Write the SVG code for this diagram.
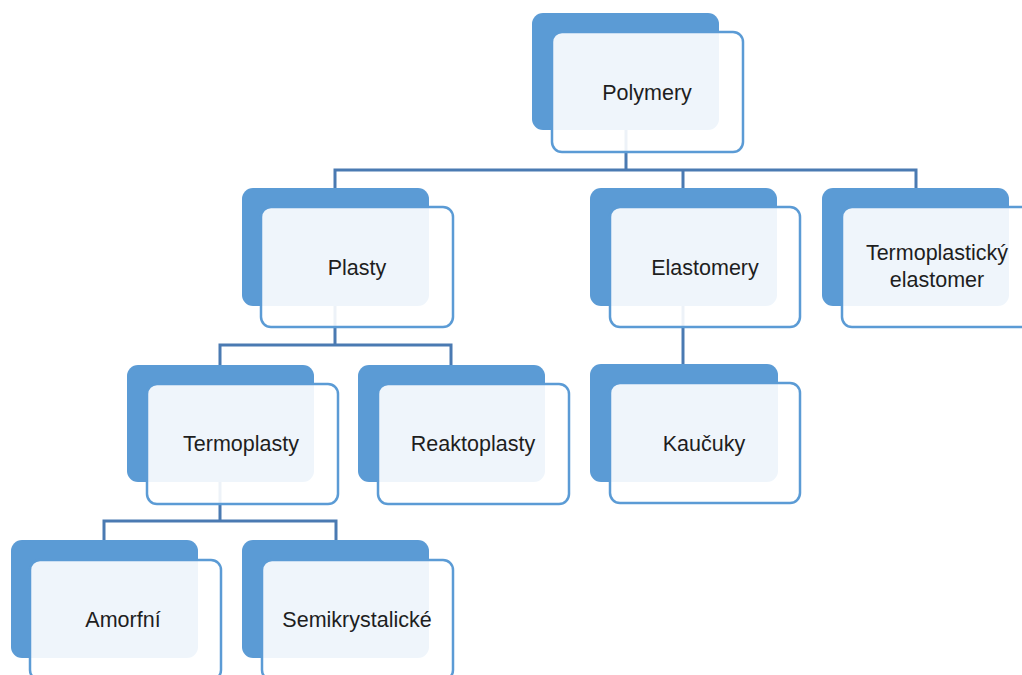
<svg xmlns="http://www.w3.org/2000/svg" width="1022" height="675" viewBox="0 0 1022 675">
<style>
.back{fill:#5b9bd5}
.front{fill:#ffffff;fill-opacity:0.9;stroke:#5b9bd5;stroke-width:2.5}
.lbl{font-family:"Liberation Sans",Arial,sans-serif;font-size:21.5px;fill:#1e1e1e;text-anchor:middle;dominant-baseline:central}
.con{fill:none;stroke:#4a7ab2;stroke-width:3}
</style>
<rect width="1022" height="675" fill="#ffffff"/>
<g id="connectors">
<path class="con" d="M626 130V170M335 188V170H916V188M683 170V188"/>
<path class="con" d="M335 306V345M220 365V345H451V365"/>
<path class="con" d="M683 306V364"/>
<path class="con" d="M220 482V521M104 540V521H336V540"/>
</g>
<g id="polymery">
<rect class="back" x="532" y="13" width="187" height="117" rx="11"/>
<rect class="front" x="552" y="32" width="191" height="120" rx="10"/>
<text class="lbl" x="647" y="93">Polymery</text>
</g>
<g id="plasty">
<rect class="back" x="242" y="188" width="187" height="118" rx="11"/>
<rect class="front" x="261" y="207" width="192" height="120" rx="10"/>
<text class="lbl" x="357" y="268">Plasty</text>
</g>
<g id="elastomery">
<rect class="back" x="590" y="188" width="187" height="118" rx="11"/>
<rect class="front" x="610" y="207" width="190" height="120" rx="10"/>
<text class="lbl" x="705" y="268">Elastomery</text>
</g>
<g id="tpe">
<rect class="back" x="822" y="188" width="187" height="118" rx="11"/>
<rect class="front" x="842" y="207" width="191" height="120" rx="10"/>
<text class="lbl" x="937" y="253">Termoplastický</text>
<text class="lbl" x="937" y="280">elastomer</text>
</g>
<g id="termoplasty">
<rect class="back" x="127" y="365" width="187" height="117" rx="11"/>
<rect class="front" x="147" y="384" width="191" height="120" rx="10"/>
<text class="lbl" x="241" y="444">Termoplasty</text>
</g>
<g id="reaktoplasty">
<rect class="back" x="358" y="365" width="187" height="117" rx="11"/>
<rect class="front" x="378" y="384" width="191" height="120" rx="10"/>
<text class="lbl" x="473" y="444">Reaktoplasty</text>
</g>
<g id="kaucuky">
<rect class="back" x="590" y="364" width="188" height="118" rx="11"/>
<rect class="front" x="610" y="383" width="190" height="120" rx="10"/>
<text class="lbl" x="704" y="444">Kaučuky</text>
</g>
<g id="amorfni">
<rect class="back" x="11" y="540" width="187" height="118" rx="11"/>
<rect class="front" x="30" y="560" width="191" height="120" rx="10"/>
<text class="lbl" x="123" y="620">Amorfní</text>
</g>
<g id="semikrystalicke">
<rect class="back" x="242" y="540" width="187" height="118" rx="11"/>
<rect class="front" x="262" y="560" width="191" height="120" rx="10"/>
<text class="lbl" x="357" y="620">Semikrystalické</text>
</g>
</svg>
